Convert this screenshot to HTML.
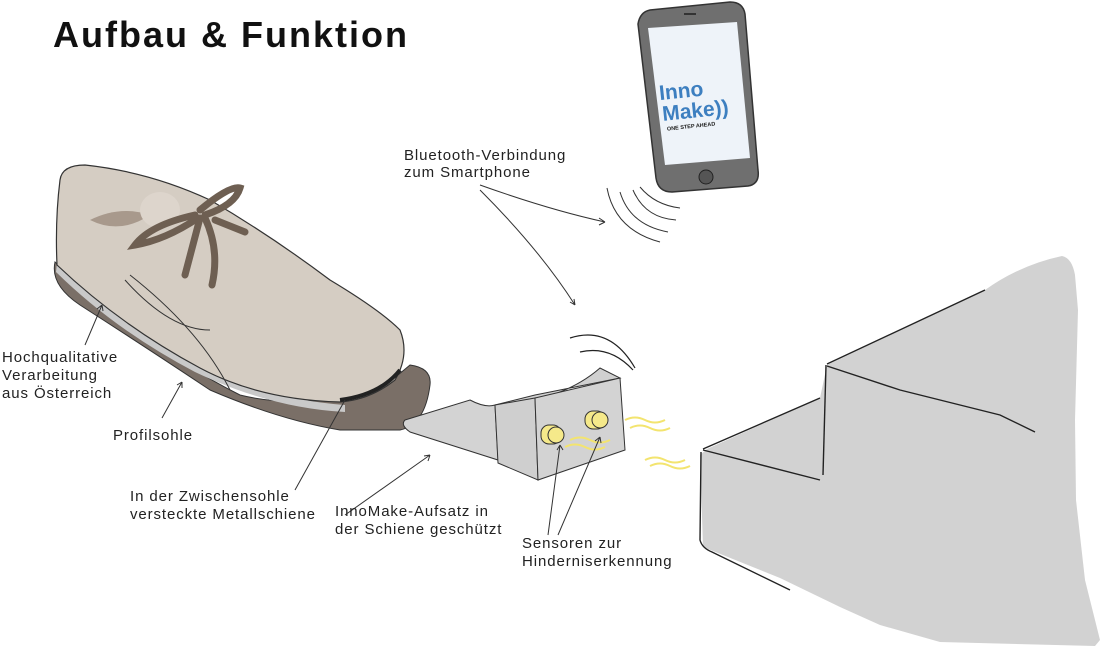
<!DOCTYPE html>
<html><head><meta charset="utf-8"><style>
html,body{margin:0;padding:0;background:#fff;}
svg{display:block;}
text{font-family:"Liberation Sans",sans-serif;fill:#222;}
</style></head><body>
<svg width="1104" height="649" viewBox="0 0 1104 649" xmlns="http://www.w3.org/2000/svg">
<text x="53" y="47" font-size="36" font-weight="bold" letter-spacing="2" style="fill:#111">Aufbau &amp; Funktion</text>

<!-- stairs -->
<path d="M707,449 L820,398 L827,365 L985,290 Q1020,265 1062,256 Q1072,258 1075,275 L1078,310 L1075,420 L1076,500 L1085,580 L1100,640 L1095,646 L940,642 L880,625 L840,607 L780,578 L703,547 L700,455 Z" fill="#d2d2d2"/>
<g fill="none" stroke="#222" stroke-width="1.4">
<path d="M701,452 L700,540 Q702,548 712,552 L790,590"/>
<path d="M703,450 L820,480"/>
<path d="M703,449 L820,398"/>
<path d="M826,365 L823,475"/>
<path d="M827,366 L900,390 L960,405 L1000,415 L1035,432"/>
<path d="M827,364 L985,290"/>
</g>

<!-- phone -->
<path d="M650,10 Q640,12 638,24 L656,178 Q658,192 672,192 L748,186 Q760,184 758,170 L745,14 Q743,2 730,2 Z" fill="#6f6f6f" stroke="#333" stroke-width="1.5"/>
<path d="M648,28 L737,22 L750,158 L665,165 Z" fill="#eef3f9"/>
<rect x="684" y="13" width="12" height="2" fill="#333"/>
<circle cx="706" cy="177" r="7" fill="#555" stroke="#222"/>
<text x="660" y="97" font-size="21" font-weight="bold" style="fill:#3d7fc0" transform="rotate(-6 690 100)">Inno</text>
<text x="661" y="118" font-size="21" font-weight="bold" style="fill:#3d7fc0" transform="rotate(-6 690 100)">Make))</text>
<text x="664" y="128" font-size="5.5" font-weight="bold" transform="rotate(-6 690 100)">ONE STEP AHEAD</text>
<g fill="none" stroke="#333" stroke-width="1">
<path d="M607,188 Q615,230 660,242"/><path d="M620,192 Q630,225 668,232"/><path d="M633,190 Q645,218 676,220"/><path d="M640,187 Q655,205 680,208"/>
</g>

<!-- shoe sole -->
<path d="M55,262 Q50,285 80,305 Q150,350 210,390 Q280,420 340,430 L400,430 Q425,425 430,385 Q432,368 410,365 L380,390 Q300,410 240,395 Q150,350 55,262 Z" fill="#7a6f67" stroke="#333" stroke-width="1"/>
<path d="M57,262 Q120,320 200,365 Q270,400 345,405 L345,412 Q270,408 195,372 Q115,330 56,272 Z" fill="#c9c9c9"/>
<!-- shoe upper -->
<path d="M60,180 Q62,165 85,165 Q150,172 210,200 Q270,235 330,280 Q380,310 400,330 Q410,355 395,380 Q370,400 340,402 Q260,400 200,368 Q120,325 57,265 Q55,220 60,180 Z" fill="#d5cdc3" stroke="#333" stroke-width="1.2"/>
<path d="M90,220 Q120,235 150,215 Q120,205 90,220 Z" fill="#a8998c"/>
<ellipse cx="160" cy="210" rx="20" ry="18" fill="#ddd5cc"/>
<g fill="none" stroke="#6e5f52" stroke-width="7" stroke-linecap="round">
<path d="M200,210 Q230,185 240,188 Q235,205 205,215"/><path d="M195,215 Q150,225 135,245 Q165,240 198,218"/>
<path d="M200,218 L185,275"/><path d="M205,218 Q220,250 212,285"/><path d="M215,220 L245,232"/>
</g>
<g fill="none" stroke="#333" stroke-width="1">
<path d="M125,280 Q170,330 210,330"/><path d="M130,275 Q200,330 230,390"/>
</g>
<path d="M340,400 Q380,395 400,370" stroke="#222" stroke-width="4" fill="none"/>

<!-- block -->
<path d="M405,420 L470,400 Q485,408 495,405 L498,460 L410,432 Q400,425 405,420 Z" fill="#d3d3d3" stroke="#333" stroke-width="1"/>
<path d="M495,405 L535,400 Q575,390 600,368 L620,378 L535,395 Z" fill="#d0d0d0" stroke="#333" stroke-width="1"/>
<path d="M495,405 L535,398 L538,480 L498,463 Z" fill="#cfcfcf" stroke="#333" stroke-width="1"/>
<path d="M535,398 L620,378 L625,450 L538,480 Z" fill="#d3d3d3" stroke="#333" stroke-width="1"/>
<rect x="541" y="425" width="20" height="19" rx="8" fill="#f5e98a" stroke="#333"/>
<circle cx="556" cy="435" r="8" fill="#f5e98a" stroke="#333"/>
<rect x="585" y="411" width="20" height="18" rx="8" fill="#f5e98a" stroke="#333"/>
<circle cx="600" cy="420" r="8" fill="#f5e98a" stroke="#333"/>
<g fill="none" stroke="#f3e46f" stroke-width="2">
<path d="M625,420 q10,-5 20,0 t20,0"/><path d="M630,428 q10,-5 20,0 t20,0"/>
<path d="M570,440 q10,-5 20,0 t20,0"/><path d="M565,447 q10,-5 20,0 t20,0"/>
<path d="M645,460 q10,-5 20,0 t20,0"/><path d="M650,466 q10,-5 20,0 t20,0"/>
</g>
<g fill="none" stroke="#222" stroke-width="1.2">
<path d="M570,338 Q610,325 635,368"/><path d="M580,352 Q610,345 633,370"/>
</g>

<!-- leader lines -->
<g fill="none" stroke="#333" stroke-width="1">
<path d="M85,345 L102,305 M102,305 l-5,4 M102,305 l1,6"/>
<path d="M162,418 L182,382 M182,382 l-5,3 M182,382 l0,6"/>
<path d="M295,490 L345,400"/>
<path d="M345,515 L430,455 M430,455 l-6,1 M430,455 l-2,6"/>
<path d="M548,535 L560,445 M560,445 l-3,5 M560,445 l3,5"/>
<path d="M558,535 L600,437 M600,437 l-5,4 M600,437 l1,6"/>
<path d="M480,185 Q550,210 605,222 M605,222 l-6,-4 M605,222 l-6,3"/>
<path d="M480,190 Q540,250 575,305 M575,305 l-1,-6 M575,305 l-5,-3"/>
</g>

<g font-size="15" letter-spacing="0.9">
<text x="404" y="160">Bluetooth-Verbindung</text>
<text x="404" y="177">zum Smartphone</text>
<text x="2" y="362">Hochqualitative</text>
<text x="2" y="380">Verarbeitung</text>
<text x="2" y="398">aus Österreich</text>
<text x="113" y="440">Profilsohle</text>
<text x="130" y="501">In der Zwischensohle</text>
<text x="130" y="519">versteckte Metallschiene</text>
<text x="335" y="516">InnoMake-Aufsatz in</text>
<text x="335" y="534">der Schiene geschützt</text>
<text x="522" y="548">Sensoren zur</text>
<text x="522" y="566">Hinderniserkennung</text>
</g>
</svg>
</body></html>
